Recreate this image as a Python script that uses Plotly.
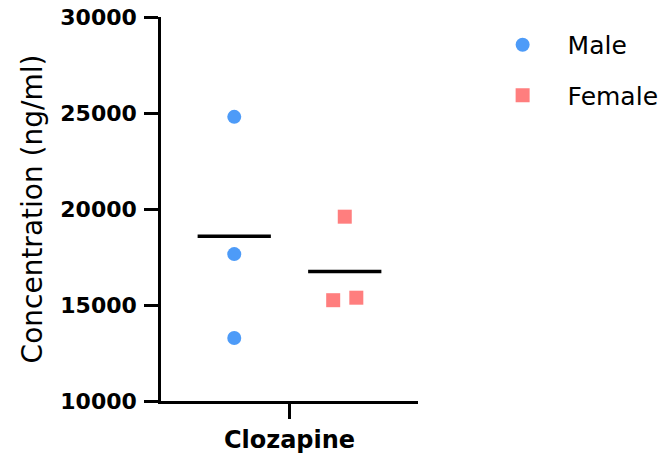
import plotly.graph_objects as go

categories = ["Clozapine"]
male_values = [24800, 17650, 13280]
female_values = [19600, 15250, 15380]
male_jitter = [0.0, 0.0, 0.0]
female_jitter = [0.0, -0.09, 0.09]
y_ticks = [10000, 15000, 20000, 25000, 30000]

group_offset = {"Male": -0.43, "Female": 0.43}
half_width = 0.285

fig = go.Figure()

def add_group(name, values, jitter, color, symbol):
    xc = 0 + group_offset[name]
    fig.add_trace(go.Scatter(
        x=[xc + j for j in jitter], y=values, mode="markers", name=name,
        legendgroup=name,
        marker=dict(color=color, symbol=symbol, size=14, line=dict(width=0)),
    ))
    m = sum(values) / len(values)
    fig.add_trace(go.Scatter(
        x=[xc - half_width, xc + half_width], y=[m, m], mode="lines",
        line=dict(color="black", width=3.5), showlegend=False, hoverinfo="skip",
    ))

add_group("Male", male_values, male_jitter, "#4D9BF8", "circle")
add_group("Female", female_values, female_jitter, "#FF7E7E", "square")

fig.update_layout(
    width=670, height=458,
    margin=dict(l=161, r=252, t=17, b=57, autoexpand=False),
    plot_bgcolor="white", paper_bgcolor="white",
    font=dict(family="DejaVu Sans", color="black"),
    showlegend=True,
    legend=dict(
        x=1.232, y=0.987, xanchor="left", yanchor="top",
        font=dict(size=25, family="DejaVu Sans", color="black"),
        itemwidth=80, tracegroupgap=15, traceorder="grouped",
        bgcolor="rgba(0,0,0,0)",
    ),
    xaxis=dict(
        range=[-1, 1], tickvals=[0], ticktext=categories,
        showline=True, linecolor="black", linewidth=2.5,
        ticks="outside", ticklen=15, tickwidth=2.5, tickcolor="black",
        showgrid=False, zeroline=False, automargin=False,
        tickfont=dict(family="DejaVu Sans", size=24, color="black", weight="bold"),
        ticklabelstandoff=0,
    ),
    yaxis=dict(
        range=[10000, 30000], tickvals=y_ticks, ticktext=[str(v) for v in y_ticks],
        showline=True, linecolor="black", linewidth=2.5,
        ticks="outside", ticklen=14, tickwidth=2.5, tickcolor="black",
        showgrid=False, zeroline=False, automargin=False,
        tickfont=dict(family="DejaVu Sans", size=22, color="black", weight="bold"),
        ticklabelstandoff=3,
        title=dict(text="Concentration (ng/ml)", standoff=10,
                   font=dict(family="DejaVu Sans", size=28, color="black")),
    ),
)

fig.write_html("out.html")
